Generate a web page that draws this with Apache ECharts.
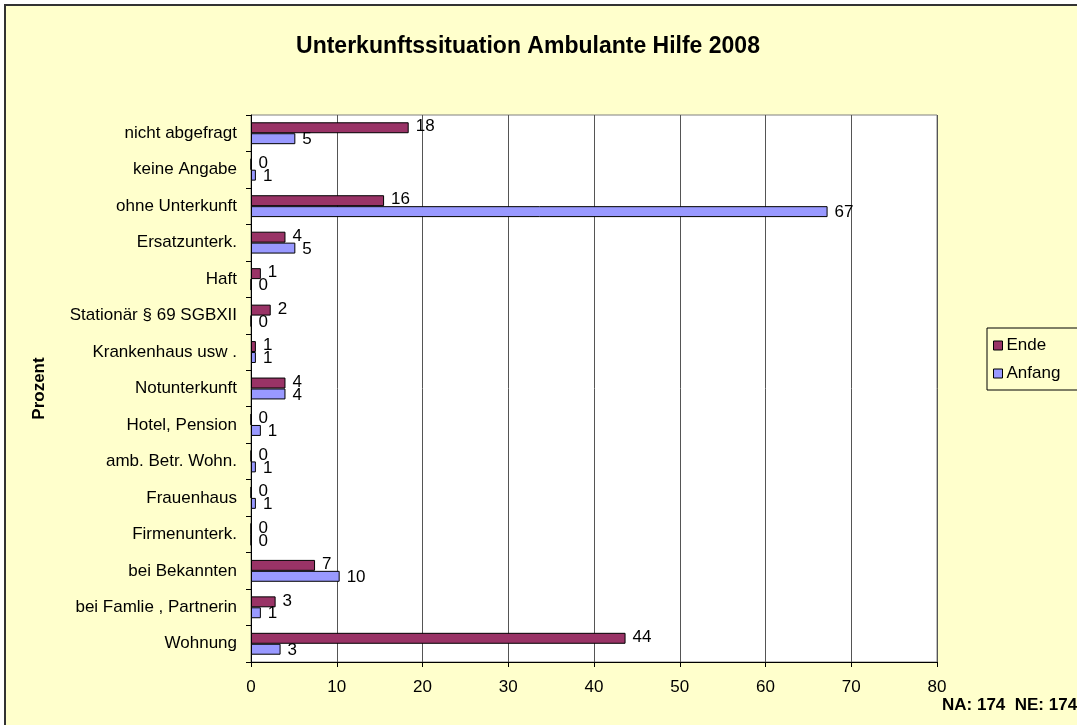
<!DOCTYPE html>
<html>
<head>
<meta charset="utf-8">
<script src="https://cdn.jsdelivr.net/npm/echarts@6/dist/echarts.min.js"></script>
<style>
  html, body { margin: 0; padding: 0; background: #fff; }
  #chart { width: 1077px; height: 725px; }
</style>
</head>
<body>
<div id="chart"></div>
<script>
// Kategorien von oben nach unten
const categories = ['nicht abgefragt', 'keine Angabe', 'ohne Unterkunft', 'Ersatzunterk.', 'Haft',
  'Stationär § 69 SGBXII', 'Krankenhaus usw .', 'Notunterkunft', 'Hotel, Pension', 'amb. Betr. Wohn.',
  'Frauenhaus', 'Firmenunterk.', 'bei Bekannten', 'bei Famlie , Partnerin', 'Wohnung']
// Prozentwerte (NE = 174, NA = 174)
const ende = [18.39, 0, 15.52, 4.02, 1.15, 2.30, 0.57, 4.02, 0, 0, 0, 0, 7.47, 2.87, 43.68]
const anfang = [5.17, 0.57, 67.24, 5.17, 0, 0, 0.57, 4.02, 1.15, 0.57, 0.57, 0, 10.34, 1.15, 3.45]
const xTicks = [0, 10, 20, 30, 40, 50, 60, 70, 80]

const font = 'Liberation Sans, Arial, sans-serif'
const chart = echarts.init(document.getElementById('chart'))

// Datenbeschriftung rechts neben dem Balken (gerundet)
const labelStyle = (dy) => ({
  show: true,
  position: 'right',
  distance: 7,
  offset: [0, dy],
  color: '#000',
  fontFamily: font,
  fontSize: 17,
  formatter: (p) => Math.round(p.value)
})

chart.setOption({
  backgroundColor: '#fff',
  animation: false,
  graphic: [
    {
      type: 'rect',
      z: -10,
      shape: { x: 5, y: 5, width: 1200, height: 900 },
      style: { fill: '#FFFFCC', stroke: '#333', lineWidth: 2 }
    },
    {
      type: 'text',
      left: 942,
      top: 697,
      style: { text: 'NA: 174  NE: 174', font: 'bold 17px ' + font, fill: '#000' }
    }
  ],
  title: {
    text: 'Unterkunftssituation Ambulante Hilfe 2008',
    left: 523,
    top: 30,
    textAlign: 'center',
    textStyle: { fontFamily: font, fontSize: 23, fontWeight: 'bold', color: '#000' }
  },
  legend: {
    orient: 'vertical',
    left: 987,
    top: 328,
    width: 90,
    padding: [9, 30, 8, 6],
    itemGap: 11,
    itemWidth: 9,
    itemHeight: 9,
    backgroundColor: '#FFFFCC',
    borderColor: '#000',
    borderWidth: 1,
    borderRadius: 0,
    icon: 'rect',
    itemStyle: { borderColor: '#000', borderWidth: 1 },
    textStyle: { fontFamily: font, fontSize: 17, color: '#000', padding: [0, 0, 0, -1] },
    data: ['Ende', 'Anfang']
  },
  grid: { left: 251, top: 115, right: 140, bottom: 63, show: true, backgroundColor: '#fff', borderColor: '#808080', borderWidth: 1 },
  xAxis: {
    type: 'value',
    min: 0,
    max: 80,
    interval: 10,
    axisLine: { show: true, lineStyle: { color: '#000' } },
    axisTick: { show: true, length: 5, lineStyle: { color: '#000' } },
    axisLabel: {
      margin: 17,
      color: '#000',
      fontFamily: font,
      fontSize: 17,
      formatter: (v) => (xTicks.includes(v) ? String(v) : '')
    },
    splitLine: { show: true, lineStyle: { color: '#555', width: 1 } }
  },
  yAxis: {
    type: 'category',
    inverse: true,
    data: categories,
    name: 'Prozent',
    nameLocation: 'middle',
    nameGap: 203,
    nameRotate: 90,
    nameTextStyle: { fontFamily: font, fontSize: 17, fontWeight: 'bold', color: '#000' },
    axisLine: { show: true, lineStyle: { color: '#000' } },
    axisTick: { show: true, length: 5, inside: false, lineStyle: { color: '#000' } },
    axisLabel: { margin: 14, color: '#000', fontFamily: font, fontSize: 17 },
    splitLine: { show: false }
  },
  series: [
    {
      name: 'Ende',
      type: 'bar',
      data: ende,
      barGap: '0%',
      barCategoryGap: '40%',
      itemStyle: { color: '#993366', borderColor: '#000', borderWidth: 1 },
      label: labelStyle(-1)
    },
    {
      name: 'Anfang',
      type: 'bar',
      data: anfang,
      barGap: '0%',
      barCategoryGap: '40%',
      itemStyle: { color: '#9999FF', borderColor: '#000', borderWidth: 1 },
      label: labelStyle(1)
    }
  ]
})
</script>
</body>
</html>
